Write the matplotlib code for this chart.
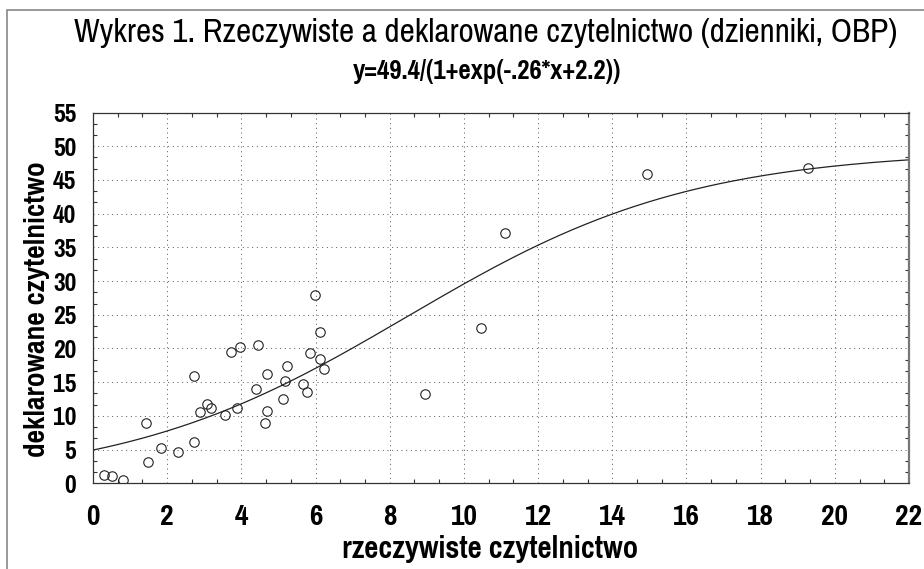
import numpy as np
import matplotlib
matplotlib.use("Agg")
import matplotlib.pyplot as plt
from matplotlib import font_manager
from matplotlib.ticker import MultipleLocator, AutoMinorLocator
from matplotlib.patches import Rectangle

# data
rzeczywiste = [0.30, 0.50, 0.80, 1.43, 1.49, 1.84, 2.30, 2.72, 2.73, 2.89,
               3.07, 3.17, 3.57, 3.72, 3.88, 3.97, 4.40, 4.46, 4.64, 4.69,
               4.69, 5.13, 5.18, 5.24, 5.65, 5.78, 5.84, 5.99, 6.13, 6.13,
               6.22, 8.96, 10.45, 11.11, 14.93, 19.27]
deklarowane = [1.3, 1.1, 0.55, 8.9, 3.2, 5.3, 4.6, 15.9, 6.1, 10.6,
               11.7, 11.1, 10.1, 19.5, 11.1, 20.2, 14.0, 20.5, 9.0, 10.7,
               16.2, 12.5, 15.1, 17.4, 14.7, 13.5, 19.4, 28.0, 22.5, 18.4,
               17.0, 13.2, 23.1, 37.2, 45.9, 46.7]

# fitted logistic curve, parameters from the subtitle
a, b, c = 49.4, -0.26, 2.2

title = "Wykres 1. Rzeczywiste a deklarowane czytelnictwo (dzienniki, OBP)"
subtitle = "y=49.4/(1+exp(-.26*x+2.2))"
xlab = "rzeczywiste czytelnictwo"
ylab = "deklarowane czytelnictwo"

# narrow sans, like Arial Narrow in the original
names = {f.name for f in font_manager.fontManager.ttflist}
fam, stretch, k = "DejaVu Sans", "condensed", 0.72
for cand in ["Pragati Narrow", "Liberation Sans Narrow", "Roboto Condensed", "Archivo Narrow"]:
    if cand in names:
        fam, stretch = cand, "normal"
        k = 1.0 if cand == "Pragati Narrow" else 0.8
        break

fig = plt.figure(figsize=(9.24, 5.69), dpi=100)
ax = fig.add_axes([93/924, 1-483.3/569, 816/924, 370.8/569])

xc = np.linspace(0, 22, 200)
yc = a / (1 + np.exp(b*xc + c))
ax.plot(xc, yc, color="#222222", lw=0.9)
ax.plot(rzeczywiste, deklarowane, "o", mfc="none", mec="#222222", ms=6.8, mew=0.8)

ax.set_xlim(0, 22)
ax.set_ylim(0, 55)
ax.xaxis.set_major_locator(MultipleLocator(2))
ax.yaxis.set_major_locator(MultipleLocator(5))
ax.xaxis.set_minor_locator(AutoMinorLocator(3))
ax.yaxis.set_minor_locator(AutoMinorLocator(3))
ax.grid(True, which="major", color="#555555", lw=0.7, ls=(0, (1, 3.8)))
ax.tick_params(which="both", direction="in", top=True, right=True, color="#333333")
ax.tick_params(which="major", length=0)
ax.tick_params(which="minor", length=3, width=0.8)
ax.tick_params(axis="x", pad=15)
ax.tick_params(axis="y", pad=12)

for lab in ax.get_xticklabels():
    lab.set_fontfamily(fam); lab.set_fontstretch(stretch)
    lab.set_fontweight("bold"); lab.set_fontsize(23*k)
for lab in ax.get_yticklabels():
    lab.set_fontfamily(fam); lab.set_fontstretch(stretch)
    lab.set_fontweight("bold"); lab.set_fontsize(20*k)

for s in ["left", "bottom", "top"]:
    ax.spines[s].set_color("#333333")
    ax.spines[s].set_linewidth(0.9)
ax.spines["right"].set_color("#777777")
ax.spines["right"].set_linewidth(1.6)

fig.text(486/924, 1-33/569, title, ha="center", va="center", fontsize=26*k,
         family=fam, stretch=stretch)
fig.text(487/924, 1-72/569, subtitle, ha="center", va="center", fontsize=21*k,
         family=fam, stretch=stretch, weight="bold")
fig.text(490/924, 1-549/569, xlab, ha="center", va="center", fontsize=24*k,
         family=fam, stretch=stretch, weight="bold")
fig.text(37/924, 1-309/569, ylab, ha="center", va="center", fontsize=23*k,
         family=fam, stretch=stretch, weight="bold", rotation=90)

# outer frame, cut off on right and bottom
fig.patches.append(Rectangle((7/924, -0.1), 1.2, 1.1 - 10/569, transform=fig.transFigure,
                             fill=False, ec="#888888", lw=1.2))

fig.savefig("out.png", dpi=100, facecolor="white")
